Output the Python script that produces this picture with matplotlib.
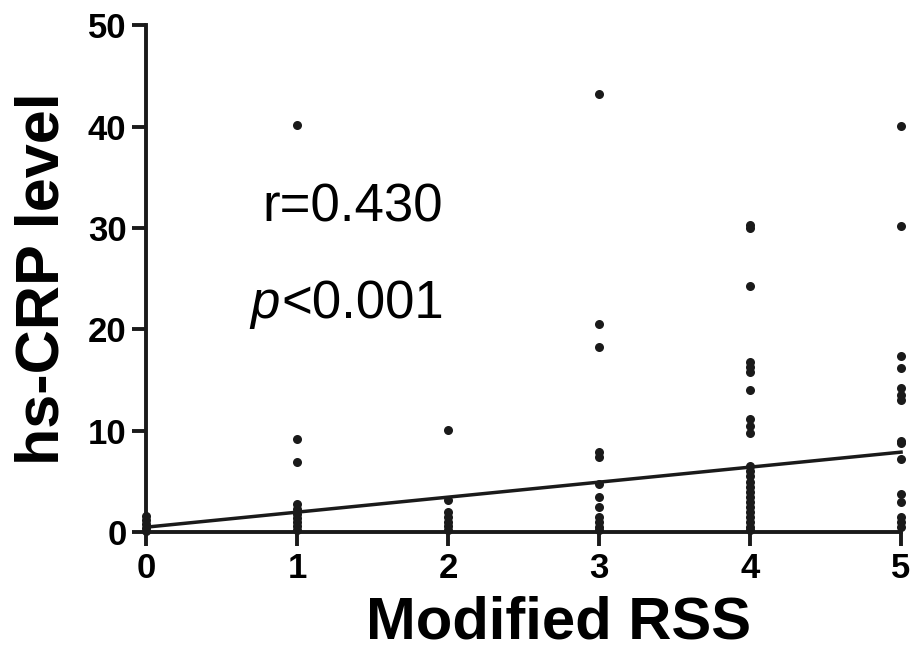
import numpy as np
import matplotlib.pyplot as plt

# hs-CRP values, grouped by modified RSS score
rss0 = [1.6, 1.2, 0.8, 0.4, 0.1]
rss1 = [40.2, 9.2, 6.9, 2.8, 2.3, 1.8, 1.4, 1.0, 0.6, 0.2]
rss2 = [10.1, 3.2, 2.0, 1.5, 1.0, 0.6, 0.2]
rss3 = [43.2, 20.5, 18.3, 7.9, 7.4, 4.8, 3.5, 2.5, 1.5, 1.0, 0.5, 0.2]
rss4 = [30.3, 30.0, 24.3, 16.8, 16.3, 15.8, 14.0, 11.2, 10.5, 9.8,
        6.5, 6.0, 5.5, 5.0, 4.5, 4.0, 3.5, 3.0, 2.5, 2.0, 1.5, 1.0, 0.5, 0.2]
rss5 = [40.1, 30.2, 17.4, 16.2, 14.2, 13.5, 13.0, 9.0, 8.8, 7.2,
        3.8, 3.0, 1.5, 1.0, 0.5]
groups = [rss0, rss1, rss2, rss3, rss4, rss5]

fit_intercept = 0.5
fit_slope = 1.48
r_text = "r=0.430"
p_text = "<0.001"

plt.rcParams['font.family'] = ['Liberation Sans', 'DejaVu Sans']

fig = plt.figure(figsize=(9.12, 6.62), dpi=100)
ax = fig.add_axes([0.160, 0.196, 0.828, 0.766])

for score, vals in enumerate(groups):
    ax.plot([score] * len(vals), vals, 'o', color='#1a1a1a', ms=6.5,
            mew=0, clip_on=False, zorder=3)

xs = np.array([0, 5])
ax.plot(xs, fit_intercept + fit_slope * xs, color='#1a1a1a', lw=2.5,
        clip_on=False, zorder=2)

ax.set_xlim(0, 5)
ax.set_ylim(0, 50)
ax.set_xticks(range(6))
ax.set_yticks(range(0, 51, 10))

for side in ['top', 'right']:
    ax.spines[side].set_visible(False)
for side in ['left', 'bottom']:
    ax.spines[side].set_linewidth(2.8)
    ax.spines[side].set_color('#1a1a1a')

ax.tick_params(direction='out', length=10, width=2.8, color='#1a1a1a',
               labelsize=25, pad=4)
for lab in ax.get_xticklabels() + ax.get_yticklabels():
    lab.set_fontweight('bold')

ax.set_xlabel("Modified RSS", fontsize=43, fontweight='bold')
ax.xaxis.set_label_coords(0.546, -0.125)
ax.set_ylabel("hs-CRP level", fontsize=44, fontweight='bold')
ax.yaxis.set_label_coords(-0.098, 0.5)

ax.text(0.77, 30.6, r_text, fontsize=38)
ax.text(0.69, 21.1, "p", fontsize=38, style='italic')
ax.text(0.90, 21.1, p_text, fontsize=38)

fig.savefig("out.png", dpi=100)
